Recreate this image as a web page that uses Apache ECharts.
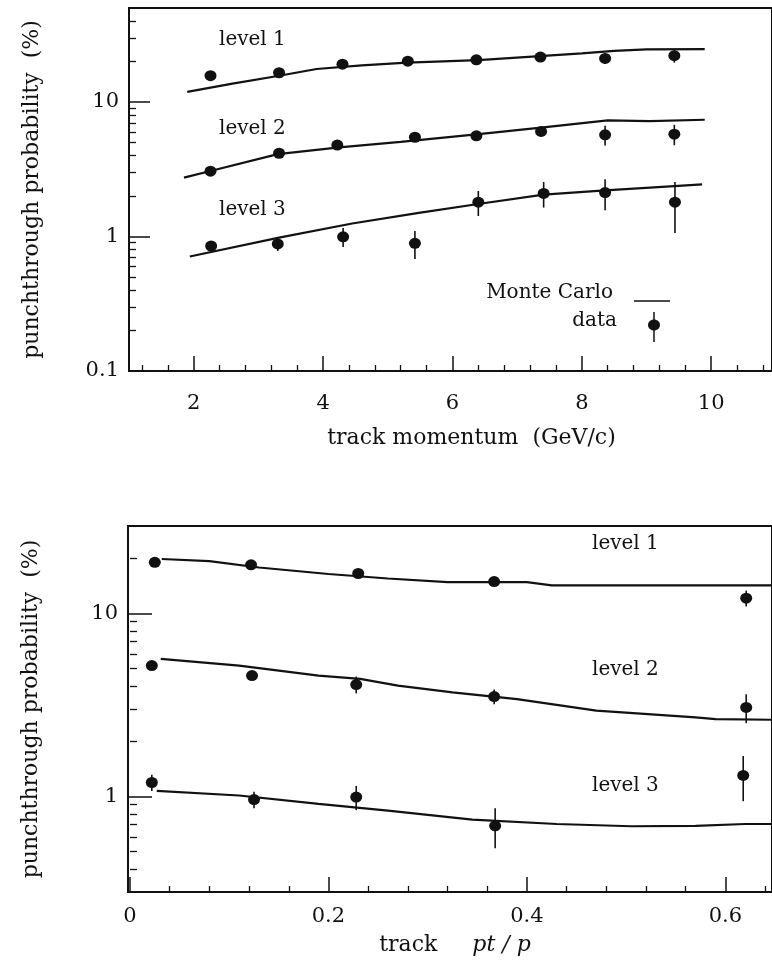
<!DOCTYPE html>
<html>
<head>
<meta charset="utf-8">
<script src="https://cdn.jsdelivr.net/npm/echarts@6/dist/echarts.min.js"></script>
<style>
  html, body { margin: 0; padding: 0; background: #fff; }
  #chart { width: 772px; height: 969px; }
</style>
</head>
<body>
<div id="chart"></div>
<script>
// ---- upper panel: punchthrough vs track momentum (GeV/c) ----
var momTicks = [2, 4, 6, 8, 10];
var momMinorTicks = [1.2, 1.6, 2.4, 2.8, 3.2, 3.6, 4.4, 4.8, 5.2, 5.6, 6.4, 6.8, 7.2, 7.6,
  8.4, 8.8, 9.2, 9.6, 10.4, 10.8];
var probTicksTop = [0.1, 1, 10];
var probMinorTop = [0.2, 0.3, 0.4, 0.5, 0.6, 0.7, 0.8, 0.9, 2, 3, 4, 5, 6, 7, 8, 9, 20, 30, 40];

var lev1Mom = [2.26, 3.32, 4.30, 5.31, 6.37, 7.36, 8.36, 9.43];
var lev1Data = [15.7, 16.5, 19.1, 20.1, 20.6, 21.6, 21.1, 22.1];
var lev1Err = [0.5, 0.6, 0.5, 0.4, 0.7, 0.8, 1.9, 2.5];
var lev2Mom = [2.26, 3.32, 4.22, 5.42, 6.37, 7.37, 8.36, 9.43];
var lev2Data = [3.06, 4.16, 4.78, 5.47, 5.61, 6.04, 5.70, 5.77];
var lev2Err = [0.1, 0.15, 0.15, 0.35, 0.25, 0.5, 0.95, 1.0];
var lev3Mom = [2.27, 3.30, 4.31, 5.42, 6.40, 7.41, 8.36, 9.44];
var lev3Data = [0.85, 0.88, 0.995, 0.89, 1.80, 2.09, 2.12, 1.80];
var lev3Err = [0.05, 0.1, 0.16, 0.21, 0.38, 0.45, 0.55, 0.74];

var mc1Mom = [1.9, 2.6, 3.3, 3.9, 4.6, 5.3, 6.4, 7.35, 8.0, 8.5, 9.0, 9.9];
var mc1 = [11.9, 13.7, 15.6, 17.6, 18.7, 19.6, 20.5, 21.9, 23.0, 24.0, 24.6, 24.7];
var mc2Mom = [1.85, 2.26, 3.3, 4.25, 5.2, 6.37, 7.37, 8.4, 9.05, 9.9];
var mc2 = [2.74, 3.07, 4.1, 4.6, 5.05, 5.75, 6.45, 7.3, 7.2, 7.38];
var mc3Mom = [1.94, 3.32, 4.45, 5.48, 6.45, 7.41, 8.36, 9.43, 9.86];
var mc3 = [0.71, 0.98, 1.25, 1.5, 1.76, 2.05, 2.2, 2.37, 2.44];

// ---- lower panel: punchthrough vs track pt/p ----
var ptTicks = [0, 0.2, 0.4, 0.6];
var ptMinorTicks = [0.04, 0.08, 0.12, 0.16, 0.24, 0.28, 0.32, 0.36, 0.44, 0.48, 0.52, 0.56, 0.64];
var probTicksBot = [1, 10];
var probMinorBot = [0.4, 0.5, 0.6, 0.7, 0.8, 0.9, 2, 3, 4, 5, 6, 7, 8, 9, 20];

var ptLev1 = [0.025, 0.122, 0.23, 0.367, 0.621];
var ptLev1Data = [19.0, 18.4, 16.5, 14.9, 12.1];
var ptLev1Err = [0.5, 0.4, 0.7, 0.4, 1.2];
var ptLev2 = [0.022, 0.123, 0.228, 0.367, 0.621];
var ptLev2Data = [5.18, 4.57, 4.08, 3.51, 3.06];
var ptLev2Err = [0.25, 0.15, 0.43, 0.33, 0.55];
var ptLev3 = [0.022, 0.125, 0.228, 0.368, 0.618];
var ptLev3Data = [1.19, 0.96, 0.99, 0.69, 1.30];
var ptLev3Err = [0.12, 0.1, 0.15, 0.17, 0.36];

var ptMc1X = [0.032, 0.08, 0.13, 0.2, 0.26, 0.32, 0.4, 0.425, 0.647];
var ptMc1 = [19.8, 19.3, 17.8, 16.4, 15.5, 14.8, 14.8, 14.2, 14.2];
var ptMc2X = [0.031, 0.11, 0.19, 0.232, 0.27, 0.325, 0.39, 0.47, 0.57, 0.59, 0.647];
var ptMc2 = [5.63, 5.18, 4.57, 4.38, 4.03, 3.70, 3.40, 2.94, 2.70, 2.64, 2.62];
var ptMc3X = [0.027, 0.11, 0.19, 0.26, 0.345, 0.43, 0.505, 0.57, 0.62, 0.647];
var ptMc3 = [1.07, 1.01, 0.91, 0.835, 0.745, 0.706, 0.686, 0.69, 0.706, 0.706];

var INK = '#111';
var FONT = 'DejaVu Serif';

function zip(xs, ys, es) {
  return xs.map(function (x, i) { return es ? [x, ys[i], es[i]] : [x, ys[i]]; });
}

function errorBars(xAxisIndex, yAxisIndex, data) {
  return {
    type: 'custom', xAxisIndex: xAxisIndex, yAxisIndex: yAxisIndex, data: data, silent: true,
    renderItem: function (params, api) {
      var x = api.value(0), y = api.value(1), e = api.value(2);
      var top = api.coord([x, y + e]);
      var bot = api.coord([x, y - e]);
      return { type: 'line', shape: { x1: top[0], y1: top[1], x2: bot[0], y2: bot[1] },
        style: { stroke: INK, lineWidth: 1.6 } };
    }
  };
}

function dots(xAxisIndex, yAxisIndex, data) {
  return { type: 'scatter', name: 'data', xAxisIndex: xAxisIndex, yAxisIndex: yAxisIndex,
    data: data, symbol: 'circle', symbolSize: [12, 11],
    itemStyle: { color: INK, opacity: 1 }, silent: true };
}

function mcLine(xAxisIndex, yAxisIndex, data) {
  return { type: 'line', name: 'Monte Carlo', xAxisIndex: xAxisIndex, yAxisIndex: yAxisIndex,
    data: data, showSymbol: false, lineStyle: { color: INK, width: 2.2 }, silent: true };
}

function xMajor(grid, min, max, ticks, name, nameGap, margin, namePad) {
  return {
    type: 'value', gridIndex: grid, min: min, max: max, position: 'bottom',
    name: name, nameLocation: 'middle', nameGap: nameGap,
    nameTextStyle: { fontFamily: FONT, fontSize: 22, color: INK, padding: namePad,
      rich: { r: { fontFamily: FONT, fontSize: 22, color: INK },
              i: { fontFamily: FONT, fontSize: 22, color: INK, fontStyle: 'italic' } } },
    axisLine: { show: true, onZero: false, lineStyle: { color: INK, width: 2 } },
    axisTick: { show: true, inside: true, length: 15, customValues: ticks, lineStyle: { color: INK, width: 1.5 } },
    axisLabel: { customValues: ticks, margin: margin, fontFamily: FONT, fontSize: 21, color: INK },
    splitLine: { show: false }
  };
}

function xMinor(grid, min, max, ticks) {
  return {
    type: 'value', gridIndex: grid, min: min, max: max, position: 'bottom',
    axisLine: { show: false },
    axisTick: { show: true, inside: true, length: 6, customValues: ticks, lineStyle: { color: INK, width: 1.3 } },
    axisLabel: { show: false }, splitLine: { show: false }
  };
}

function yMajor(grid, min, max, ticks, tickLen, nameGap) {
  return {
    type: 'log', logBase: 10, gridIndex: grid, min: min, max: max, position: 'left',
    name: 'punchthrough probability  (%)', nameLocation: 'middle', nameGap: nameGap,
    nameTextStyle: { fontFamily: FONT, fontSize: 22, color: INK },
    axisLine: { show: true, onZero: false, lineStyle: { color: INK, width: 2 } },
    axisTick: { show: true, inside: true, length: tickLen, customValues: ticks, lineStyle: { color: INK, width: 1.5 } },
    axisLabel: { customValues: ticks, margin: 10, fontFamily: FONT, fontSize: 21, color: INK,
      formatter: function (v) { return String(+v.toPrecision(3)); } },
    splitLine: { show: false }
  };
}

function yMinor(grid, min, max, ticks) {
  return {
    type: 'log', logBase: 10, gridIndex: grid, min: min, max: max, position: 'left',
    axisLine: { show: false },
    axisTick: { show: true, inside: true, length: 7, customValues: ticks, lineStyle: { color: INK, width: 1.3 } },
    axisLabel: { show: false }, splitLine: { show: false }
  };
}

// text placed by its vertical centre
function label(text, x, y) {
  return { type: 'text', left: x, top: y - 12,
    style: { text: text, fontFamily: FONT, fontSize: 20, fill: INK } };
}

var chart = echarts.init(document.getElementById('chart'));

var option = {
  backgroundColor: '#fff',
  animation: false,
  grid: [
    { left: 129, top: 8, right: -3, height: 363, show: true, borderColor: INK, borderWidth: 2,
      backgroundColor: 'transparent' },
    { left: 128, top: 526, right: -3, height: 366, show: true, borderColor: INK, borderWidth: 2,
      backgroundColor: 'transparent' }
  ],
  xAxis: [
    xMajor(0, 1, 10.94, momTicks, 'track momentum  (GeV/c)', 56, 22, [0, 0, 0, 42]),
    xMinor(0, 1, 10.94, momMinorTicks),
    xMajor(1, -0.002, 0.647, ptTicks, '{r|track}     {i|pt / p}', 42, 14, [0, 0, 0, 10]),
    xMinor(1, -0.002, 0.647, ptMinorTicks)
  ],
  yAxis: [
    yMajor(0, 0.1, 50, probTicksTop, 21, 86),
    yMinor(0, 0.1, 50, probMinorTop),
    yMajor(1, 0.3, 30, probTicksBot, 24, 86),
    yMinor(1, 0.3, 30, probMinorBot)
  ],
  series: [
    mcLine(0, 0, zip(mc1Mom, mc1)),
    mcLine(0, 0, zip(mc2Mom, mc2)),
    mcLine(0, 0, zip(mc3Mom, mc3)),
    errorBars(0, 0, zip(lev1Mom, lev1Data, lev1Err)),
    errorBars(0, 0, zip(lev2Mom, lev2Data, lev2Err)),
    errorBars(0, 0, zip(lev3Mom, lev3Data, lev3Err)),
    dots(0, 0, zip(lev1Mom, lev1Data)),
    dots(0, 0, zip(lev2Mom, lev2Data)),
    dots(0, 0, zip(lev3Mom, lev3Data)),

    mcLine(2, 2, zip(ptMc1X, ptMc1)),
    mcLine(2, 2, zip(ptMc2X, ptMc2)),
    mcLine(2, 2, zip(ptMc3X, ptMc3)),
    errorBars(2, 2, zip(ptLev1, ptLev1Data, ptLev1Err)),
    errorBars(2, 2, zip(ptLev2, ptLev2Data, ptLev2Err)),
    errorBars(2, 2, zip(ptLev3, ptLev3Data, ptLev3Err)),
    dots(2, 2, zip(ptLev1, ptLev1Data)),
    dots(2, 2, zip(ptLev2, ptLev2Data)),
    dots(2, 2, zip(ptLev3, ptLev3Data))
  ],
  graphic: [
    label('level 1', 219, 42),
    label('level 2', 219, 131),
    label('level 3', 219, 212),
    label('level 1', 592, 546),
    label('level 2', 592, 672),
    label('level 3', 592, 788),
    // key: Monte Carlo line, data point with bar
    { type: 'text', right: 772 - 613, top: 283,
      style: { text: 'Monte Carlo', fontFamily: FONT, fontSize: 20, fill: INK } },
    { type: 'line', shape: { x1: 634, y1: 301, x2: 670, y2: 301 }, style: { stroke: INK, lineWidth: 1.5 } },
    { type: 'text', right: 772 - 617, top: 311,
      style: { text: 'data', fontFamily: FONT, fontSize: 20, fill: INK } },
    { type: 'line', shape: { x1: 654, y1: 312, x2: 654, y2: 342 }, style: { stroke: INK, lineWidth: 1.5 } },
    { type: 'ellipse', shape: { cx: 654, cy: 325, rx: 6, ry: 5.5 }, style: { fill: INK } }
  ]
};

chart.setOption(option);
</script>
</body>
</html>
